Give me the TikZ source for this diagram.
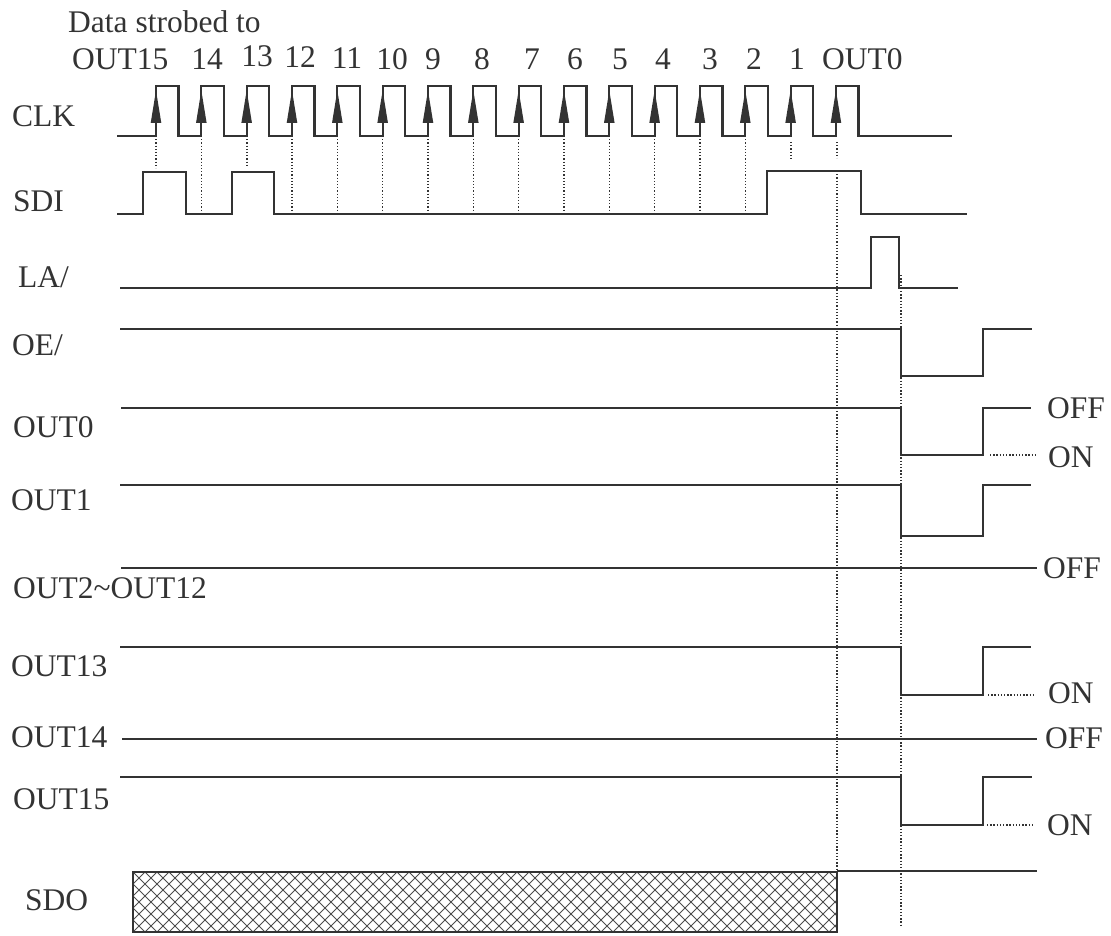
\documentclass[tikz,border=0pt]{standalone}
\usepackage{fontspec}
\setmainfont{Liberation Serif}
\usepackage{xcolor}
\usepackage{tikz}
\usetikzlibrary{arrows.meta}

\begin{document}
\begin{tikzpicture}[x=1pt,y=-1pt,font=\fontsize{31.5pt}{36pt}\selectfont,
  wave/.style={line width=2.1pt, black!80},
  strobe/.style={line width=1.3pt, black!80, dash pattern=on 1.3pt off 1.9pt},
  uparrow/.style={line width=2.1pt, black!80, -{Triangle[length=33pt,width=10pt]}},
  hatch/.style={line width=1pt, black!70},
  lbl/.style={anchor=base west, inner sep=0pt, text=black!80},
  num/.style={anchor=base, inner sep=0pt, text=black!80}]
\useasboundingbox (0,0) rectangle (1111,936);

\node (title) [lbl] at (68,33) {Data strobed to};
\node (n15) [lbl] at (72,70) {OUT15};
\node (n14) [num] at (207,70) {14};
\node (n13) [num] at (257,67) {13};
\node (n12) [num] at (300,68) {12};
\node (n11) [num] at (347,69) {11};
\node (n10) [num] at (392,70) {10};
\node (n9) [num] at (433,70) {9};
\node (n8) [num] at (482,70) {8};
\node (n7) [num] at (532,70) {7};
\node (n6) [num] at (575,70) {6};
\node (n5) [num] at (620,70) {5};
\node (n4) [num] at (663,70) {4};
\node (n3) [num] at (710,70) {3};
\node (n2) [num] at (754,70) {2};
\node (n1) [num] at (797,70) {1};
\node (n0) [lbl] at (822,70) {OUT0};

\node (clk) [lbl] at (12,127) {CLK};
\node (sdi) [lbl] at (13,212) {SDI};
\node (la) [lbl] at (18,287) {LA/};
\node (oe) [lbl] at (12,355) {OE/};
\node (out0) [lbl] at (13,437) {OUT0};
\node (out1) [lbl] at (11,510) {OUT1};
\node (outmid) [lbl] at (13,598) {OUT2\textasciitilde OUT12};
\node (out13) [lbl] at (11,676) {OUT13};
\node (out14) [lbl] at (11,747) {OUT14};
\node (out15) [lbl] at (13,809) {OUT15};
\node (sdo) [lbl] at (25,910) {SDO};

\node (off0) [lbl] at (1047,418) {OFF};
\node (on0) [lbl] at (1048,467) {ON};
\node (offmid) [lbl] at (1043,578) {OFF};
\node (on13) [lbl] at (1048,703) {ON};
\node (off14) [lbl] at (1045,748) {OFF};
\node (on15) [lbl] at (1047,835) {ON};

\draw[wave] (117,136) \foreach \i in {0,...,15} { -- ({156+45.33*\i},136) -- ++(0,-50) -- ++(22.5,0) -- ++(0,50) } -- (952,136);
\foreach \i in {0,...,15}
  \draw[uparrow] ({156+45.33*\i},136) -- ++(0,-46);

\draw[wave] (117,214) -- (143,214) -- (143,172) -- (186,172) -- (186,214) -- (232,214) -- (232,172) -- (274,172) -- (274,214)
  -- (767,214) -- (767,171) -- (861,171) -- (861,214) -- (967,214);
\draw[wave] (120,288) -- (871,288) -- (871,237) -- (899,237) -- (899,288) -- (958,288);
\draw[wave] (120,329) -- (901,329) -- (901,376) -- (983,376) -- (983,329) -- (1032,329);
\draw[wave] (121,408) -- (901,408) -- (901,455) -- (983,455) -- (983,408) -- (1031,408);
\draw[wave] (120,485) -- (901,485) -- (901,536) -- (983,536) -- (983,485) -- (1031,485);
\draw[wave] (121,568) -- (1037,568);
\draw[wave] (120,647) -- (901,647) -- (901,695) -- (983,695) -- (983,647) -- (1031,647);
\draw[wave] (122,739) -- (1037,739);
\draw[wave] (120,777) -- (901,777) -- (901,825) -- (983,825) -- (983,777) -- (1032,777);

\draw[strobe] (990,455) -- (1035,455);
\draw[strobe] (988,695) -- (1033,695);
\draw[strobe] (987,825) -- (1032,825);

\draw[strobe] (156,136) -- (156,168);
\draw[strobe] (247,136) -- (247,167);
\foreach \i in {1,3,4,...,13}
  \draw[strobe] ({156+45.33*\i},136) -- ++(0,78);
\draw[strobe] (791,142) -- (791,160);
\draw[strobe] (837,142) -- (837,158);
\draw[strobe] (837,171) -- (837,871);
\draw[strobe] (901,275) -- (901,927);

\begin{scope}
\clip (133,872) rectangle (837,932);
\foreach \x in {73,85,...,845} {
  \draw[hatch] (\x,872) -- ++(60,60);
  \draw[hatch] (\x,932) -- ++(60,-60);
}
\end{scope}
\draw[wave] (133,872) rectangle (837,932);
\draw[wave] (837,871) -- (1037,871);
\end{tikzpicture}
\end{document}
